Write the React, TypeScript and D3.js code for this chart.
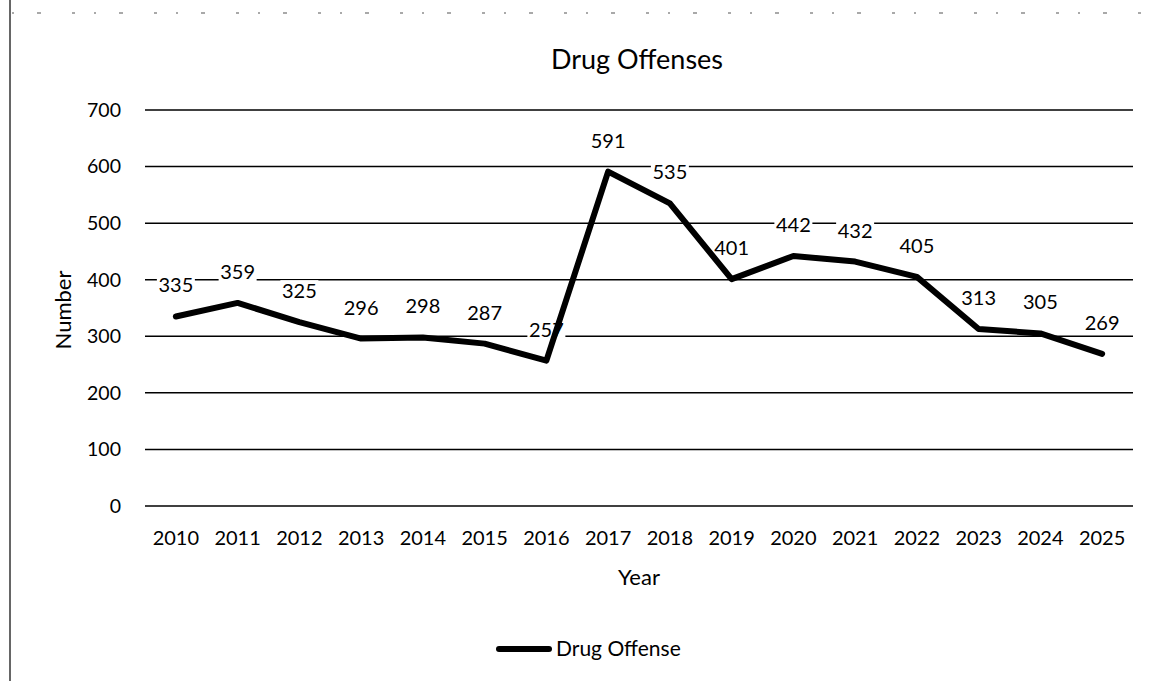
import React from "react";
import * as d3 from "d3";

const years = ["2010","2011","2012","2013","2014","2015","2016","2017","2018","2019","2020","2021","2022","2023","2024","2025"];
const drugOffense = [335,359,325,296,298,287,257,591,535,401,442,432,405,313,305,269];
const yTicks = [0,100,200,300,400,500,600,700];
const title = "Drug Offenses";
const seriesName = "Drug Offense";
const xTitle = "Year";
const yTitle = "Number";

const W = 1152, H = 681;
const FONT = "Lato, 'Open Sans', sans-serif";

export default function App() {
  const x = d3.scaleBand<string>().domain(years).range([145, 1133]);
  const y = d3.scaleLinear().domain([0, 700]).range([506, 110]);
  const cx = (d: string) => (x(d) as number) + x.bandwidth() / 2;
  const line = d3.line<number>().x((_, i) => cx(years[i])).y(v => y(v));

  return (
    <svg width={W} height={H} style={{ position: "absolute", left: 0, top: 0, background: "#fff" }} fontFamily={FONT}>
      <rect x={0} y={0} width={W} height={H} fill="#fff" />
      <line x1={10} x2={10} y1={0} y2={H} stroke="#333" strokeWidth={1.5} />
      <line x1={12} x2={1150} y1={13} y2={13} stroke="#555" strokeWidth={1.2} strokeDasharray="2 23 4 31 3 19" />
      <text x={637} y={69} textAnchor="middle" fontSize={27} fill="#000">{title}</text>
      {yTicks.map(t => (
        <g key={t}>
          <line x1={145} x2={1133} y1={y(t)} y2={y(t)} stroke="#000" strokeWidth={1.5} />
          <text x={121} y={y(t)} dy="0.35em" textAnchor="end" fontSize={19.5} fill="#000">{t}</text>
        </g>
      ))}
      {years.map(yr => (
        <text key={yr} x={cx(yr)} y={538} dy="0.35em" textAnchor="middle" fontSize={20} fill="#000">{yr}</text>
      ))}
      <text x={639} y={577} dy="0.35em" textAnchor="middle" fontSize={22} fill="#000">{xTitle}</text>
      <text transform={`translate(63,310) rotate(-90)`} dy="0.35em" textAnchor="middle" fontSize={22} fill="#000">{yTitle}</text>
      {drugOffense.map((v, i) => (
        <g key={i}>
          <rect x={cx(years[i]) - 19} y={y(v) - 42} width={38} height={22} fill="#fff" />
          <text x={cx(years[i])} y={y(v) - 31} dy="0.35em" textAnchor="middle" fontSize={20} fill="#000">{v}</text>
        </g>
      ))}
      <path d={line(drugOffense) || ""} fill="none" stroke="#000" strokeWidth={6} strokeLinejoin="round" strokeLinecap="round" />
      <line x1={499} x2={549} y1={649} y2={649} stroke="#000" strokeWidth={6} strokeLinecap="round" />
      <text x={556} y={649} dy="0.35em" fontSize={21} fill="#000">{seriesName}</text>
    </svg>
  );
}
